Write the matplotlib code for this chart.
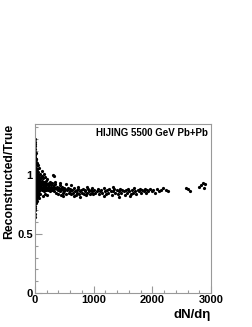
import matplotlib
matplotlib.use("Agg")
import matplotlib.pyplot as plt
from matplotlib.ticker import MultipleLocator, FixedLocator

plt.rcParams['font.family'] = ['Liberation Sans', 'DejaVu Sans']

# Segment data (dN/deta, reconstructed/true)
x_a = [3,4,3,5,4,6,5,7,6,8,5,9,7,10,4,8,11,6,9,12,5,10,7,13,4,8,11,6,9,5,7,4,12,14,15,16,13,17,18,15,19,14,20,16,18]
y_a = [1.30,1.28,1.26,1.24,1.22,1.19,1.17,1.15,1.12,1.10,1.08,1.06,1.04,1.02,1.00,0.98,0.96,0.94,0.92,0.90,0.88,0.86,0.84,0.82,0.80,0.78,0.76,0.74,0.72,0.70,0.67,0.64,1.13,1.09,1.05,1.01,0.97,0.93,0.89,0.85,0.81,0.77,0.94,1.11,1.18]

x_b = [22,24,25,26,27,28,30,31,32,33,34,35,36,38,39,40,42,43,44,46,47,48,50,52,53,55,56,58,60,62,63,65,67,68,70,72,74,75,77,78,80,23,29,37,41,45,49,54,57,61,66,71,76,79,21,44,64,27,36,51]
y_b = [1.10,1.06,0.99,0.93,0.88,0.83,0.97,1.03,0.91,0.86,0.80,1.08,0.95,0.90,1.00,0.84,0.93,1.05,0.88,0.97,0.82,0.91,1.02,0.87,0.95,0.90,0.99,0.85,0.93,1.06,0.89,0.96,0.84,0.92,1.00,0.88,0.95,0.91,0.86,0.98,0.93,0.96,1.01,0.98,0.96,0.93,0.95,0.92,0.94,0.90,0.94,0.97,0.89,0.91,0.79,0.78,0.80,1.13,1.10,1.08]

x_c = [85,88,92,95,98,102,105,110,114,118,122,126,130,135,140,145,150,155,160,165,170,175,180,186,192,198,205,212,218,225,232,240,248,255,262,270,278,285,292,300,95,130,175,210,120,150,310,330,100,140,190,235,265]
y_c = [0.96,0.90,1.01,0.93,0.88,0.97,0.91,0.94,0.87,0.99,0.92,0.95,0.89,0.93,0.97,0.90,0.86,0.94,0.91,0.98,0.88,0.93,0.90,0.95,0.87,0.92,0.89,0.96,0.91,0.87,0.93,0.90,0.88,0.94,0.86,0.91,0.89,0.93,0.87,0.90,0.84,0.82,0.84,0.83,1.03,1.01,1.00,0.99,0.90,0.92,0.91,0.89,0.92]

x_d = [310,320,330,340,350,360,370,380,390,400,410,420,430,440,450,460,470,480,490,500,515,530,545,560,575,590,605,620,635,650,665,680,695,710,725,740,755,770,785,800,815,830,845,860,875,890,905,920,935,950,965,980,995,345,420,530,610,730,470,660,760,890,980]
y_d = [0.88,0.91,0.86,0.89,0.92,0.85,0.88,0.90,0.87,0.84,0.89,0.91,0.86,0.88,0.83,0.90,0.87,0.85,0.89,0.86,0.88,0.84,0.87,0.89,0.85,0.86,0.88,0.84,0.87,0.85,0.89,0.86,0.83,0.87,0.85,0.88,0.84,0.86,0.87,0.85,0.88,0.84,0.86,0.87,0.83,0.85,0.88,0.86,0.84,0.87,0.85,0.86,0.84,0.94,0.93,0.92,0.91,0.90,0.82,0.82,0.81,0.90,0.89]

x_e = [1010,1030,1050,1070,1090,1110,1130,1150,1170,1190,1210,1230,1250,1270,1290,1310,1330,1350,1370,1390,1410,1430,1450,1470,1490,1510,1530,1550,1570,1590,1610,1630,1650,1670,1690,1710,1730,1750,1770,1790,1810,1830,1850,1870,1890,1910,1930,1960,1990,2020,2050,2080,2110,2150,2190,2230,2270,1180,1440,1620,1330]
y_e = [0.87,0.85,0.86,0.88,0.84,0.86,0.87,0.85,0.89,0.86,0.84,0.87,0.85,0.88,0.86,0.83,0.86,0.88,0.85,0.87,0.84,0.86,0.88,0.85,0.87,0.86,0.83,0.87,0.85,0.88,0.86,0.84,0.87,0.85,0.89,0.86,0.84,0.87,0.86,0.88,0.85,0.87,0.86,0.88,0.85,0.87,0.86,0.88,0.86,0.87,0.85,0.88,0.86,0.87,0.89,0.87,0.86,0.82,0.81,0.82,0.90]

x_f = [2580,2610,2650,2800,2830,2860,2880,2900]
y_f = [0.89,0.88,0.86,0.90,0.91,0.93,0.89,0.92]

xs = x_a + x_b + x_c + x_d + x_e + x_f
ys = y_a + y_b + y_c + y_d + y_e + y_f

fig = plt.figure(figsize=(2.53, 3.27), dpi=100)
ax = fig.add_axes([0.138, 0.104, 0.696, 0.517])
ax.plot(xs, ys, 'o', color='black', markersize=2.3, markeredgewidth=0)

ax.set_xlim(0, 3000)
ax.set_ylim(0, 1.43)
ax.xaxis.set_major_locator(FixedLocator([0, 1000, 2000, 3000]))
ax.xaxis.set_minor_locator(MultipleLocator(200))
ax.yaxis.set_major_locator(FixedLocator([0, 0.5, 1.0]))
ax.yaxis.set_minor_locator(MultipleLocator(0.1))
ax.set_xticklabels(['0', '1000', '2000', '3000'])
ax.set_yticklabels(['0', '0.5', '1'])

for s in ax.spines.values():
    s.set_color('#999999')
    s.set_linewidth(0.8)
ax.tick_params(which='both', direction='in', colors='#999999', labelcolor='black',
               labelsize=8, top=False, right=False)
ax.tick_params(which='major', length=5, width=0.8, pad=1.5)
ax.tick_params(which='minor', length=2.5, width=0.8)
for lab in ax.get_xticklabels() + ax.get_yticklabels():
    lab.set_fontweight('bold')

ax.text(0.98, 0.975, 'HIJING 5500 GeV Pb+Pb', transform=ax.transAxes,
        ha='right', va='top', fontsize=7, fontweight='bold')

fig.text(0.035, 0.621, 'Reconstructed/True', rotation=90, ha='center', va='top',
         fontsize=8.8, fontweight='bold')
fig.text(0.834, 0.018, 'dN/d\u03b7', ha='right', va='bottom', fontsize=9.5, fontweight='bold')

fig.savefig('out.png', dpi=100)
